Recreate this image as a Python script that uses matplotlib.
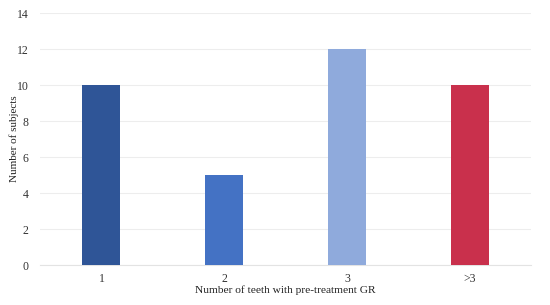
import matplotlib
matplotlib.use("Agg")
import matplotlib.pyplot as plt

categories = ["1", "2", "3", ">3"]
values = [10, 5, 12, 10]
colors = ["#2F5597", "#4472C4", "#8FAADC", "#C9304C"]
yticks = [0, 2, 4, 6, 8, 10, 12, 14]

plt.rcParams['font.family'] = ['Liberation Serif']

fig = plt.figure(figsize=(5.5, 3.05), dpi=100)
ax = fig.add_axes([0.0727, 0.131, 0.8933, 0.826])
x = range(len(categories))
ax.bar(x, values, width=0.31, color=colors, zorder=3)
ax.set_xlim(-0.5, len(categories) - 0.5)
ax.set_ylim(0, 14)
ax.set_yticks(yticks)
ax.set_xticks(list(x))
ax.set_xticklabels(categories)
ax.grid(axis='y', color='#EDEDED', linewidth=0.8, zorder=0)
for s in ['top', 'right', 'left']:
    ax.spines[s].set_visible(False)
ax.spines['bottom'].set_color('#E3E3E3')
ax.spines['bottom'].set_linewidth(0.8)
ax.tick_params(axis='both', length=0, labelsize=8.5, colors='#333333')
ax.tick_params(axis='y', pad=8)
ax.tick_params(axis='x', pad=6)
ax.set_ylabel("Number of subjects", fontsize=8, color='#222222')
ax.yaxis.set_label_coords(-0.042, 0.5)
ax.set_xlabel("Number of teeth with pre-treatment GR", fontsize=8.2, color='#222222', labelpad=0)
fig.savefig("out.png", dpi=100, facecolor='white')
